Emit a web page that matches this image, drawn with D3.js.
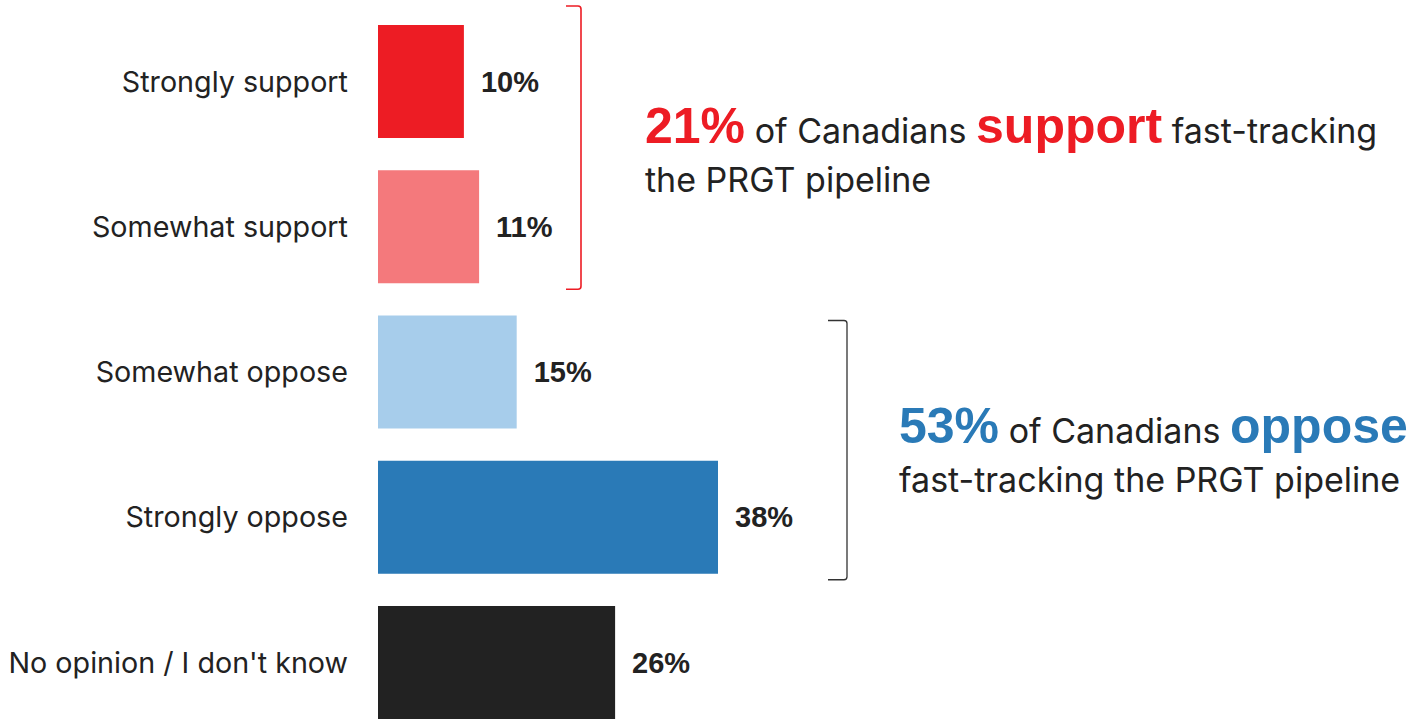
<!DOCTYPE html>
<html>
<head>
<meta charset="utf-8">
<script src="https://cdn.jsdelivr.net/npm/d3@7"></script>
<style>
  html, body { margin: 0; padding: 0; background: #fff; }
  svg { display: block; }
  .cat { font-family: Inter, "Noto Sans", sans-serif; font-size: 28.7px; fill: #222; }
  .val { font-family: "Liberation Sans", Arial, sans-serif; font-weight: bold; font-size: 29px; fill: #222; }
  .note { font-family: Inter, "Noto Sans", sans-serif; font-size: 34px; fill: #222; }
  .note .big { font-family: "Liberation Sans", Arial, sans-serif; font-weight: bold; font-size: 50px; }
</style>
</head>
<body>
<svg id="chart"></svg>
<script>
// survey answers, top to bottom
const categories = ['Strongly support', 'Somewhat support', 'Somewhat oppose', 'Strongly oppose', "No opinion / I don't know"];
const values = [9.6, 11.3, 15.5, 38.0, 26.5];
const valueLabels = ['10%', '11%', '15%', '38%', '26%'];
const colors = ['#ed1c24', '#f4797c', '#a7cdeb', '#2a7ab7', '#222222'];

// callouts: [text, highlight?]
const supportLine1 = [['21%', true], [' of Canadians ', false], ['support', true], [' fast-tracking', false]];
const supportLine2 = 'the PRGT pipeline';
const opposeLine1 = [['53%', true], [' of Canadians ', false], ['oppose', true]];
const opposeLine2 = 'fast-tracking the PRGT pipeline';

const w = 1415, h = 721;

const svg = d3.select('#chart')
  .attr('width', w)
  .attr('height', h);

const x = d3.scaleLinear()
  .domain([0, 38])
  .range([378, 718]);

const y = d3.scaleBand()
  .domain(categories)
  .range([25, 719])
  .paddingInner(0.222)
  .paddingOuter(0);

// bars
svg.append('g').selectAll('rect')
  .data(categories)
  .join('rect')
  .attr('x', x(0))
  .attr('y', d => y(d))
  .attr('width', (d, i) => x(values[i]) - x(0))
  .attr('height', y.bandwidth())
  .attr('fill', (d, i) => colors[i]);

// category labels
svg.append('g').selectAll('text')
  .data(categories)
  .join('text')
  .attr('class', 'cat')
  .attr('x', x(0) - 30)
  .attr('y', d => y(d) + y.bandwidth() / 2)
  .attr('dy', '0.35em')
  .attr('text-anchor', 'end')
  .text(d => d);

// value labels
svg.append('g').selectAll('text')
  .data(categories)
  .join('text')
  .attr('class', 'val')
  .attr('x', (d, i) => x(values[i]) + 17)
  .attr('y', d => y(d) + y.bandwidth() / 2)
  .attr('dy', '0.35em')
  .text((d, i) => valueLabels[i]);

// brackets
function bracket(xv, y0, y1, arm, color, sw) {
  const r = 3;
  svg.append('path')
    .attr('d', `M${xv - arm},${y0} L${xv - r},${y0} Q${xv},${y0} ${xv},${y0 + r}
                L${xv},${y1 - r} Q${xv},${y1} ${xv - r},${y1} L${xv - arm},${y1}`)
    .attr('fill', 'none')
    .attr('stroke', color)
    .attr('stroke-width', sw);
}
bracket(581, y(categories[0]) - 19, y(categories[1]) + y.bandwidth() + 6, 15, colors[0], 1.6);
bracket(847, y(categories[2]) + 5, y(categories[3]) + y.bandwidth() + 6, 19, '#333', 1.3);

// callout text
function note(x0, yBase, lineGap, parts, line2, color) {
  const t = svg.append('text')
    .attr('class', 'note')
    .attr('x', x0)
    .attr('y', yBase)
    .attr('xml:space', 'preserve');
  parts.forEach(([s, hi]) => {
    t.append('tspan')
      .attr('class', hi ? 'big' : null)
      .attr('fill', hi ? color : null)
      .text(s);
  });
  svg.append('text')
    .attr('class', 'note')
    .attr('x', x0)
    .attr('y', yBase + lineGap)
    .text(line2);
}
note(645, 143, 49, supportLine1, supportLine2, colors[0]);
note(899, 443, 49, opposeLine1, opposeLine2, colors[3]);
</script>
</body>
</html>
